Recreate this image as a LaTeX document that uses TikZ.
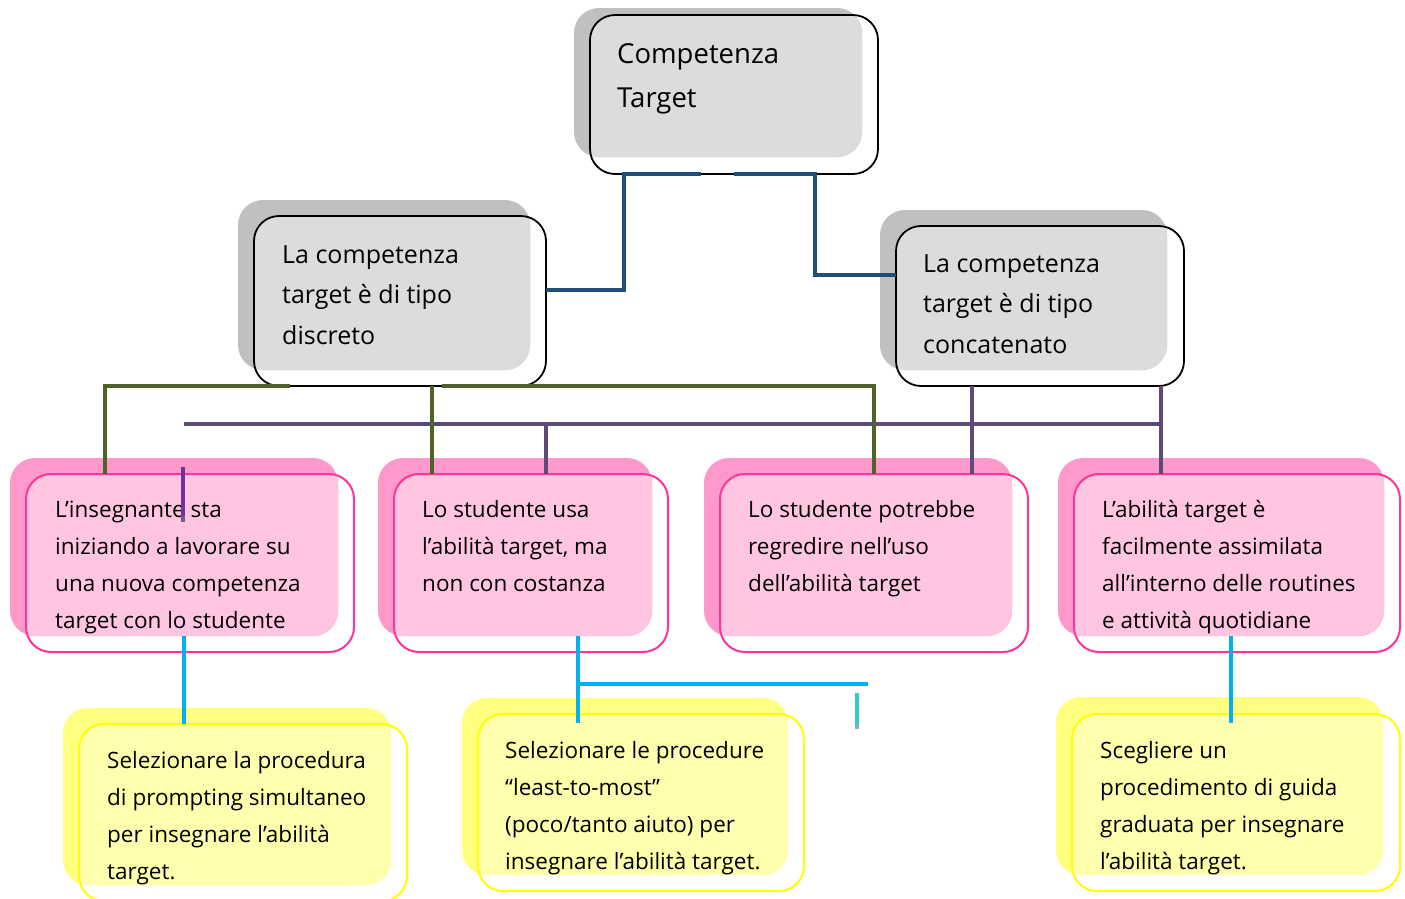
\documentclass[tikz,border=0pt]{standalone}
\usepackage{fontspec}
\setmainfont{Open Sans}
\usetikzlibrary{fit}
\definecolor{gD}{HTML}{C0C0C0}
\definecolor{gL}{HTML}{DCDCDC}
\definecolor{pD}{HTML}{FF99CC}
\definecolor{pL}{HTML}{FFC5E1}
\definecolor{pO}{HTML}{FF3399}
\definecolor{yD}{HTML}{FFFF80}
\definecolor{yL}{HTML}{FFFFAE}
\definecolor{yO}{HTML}{FFFF00}
\definecolor{cBlue}{HTML}{1F4E79}
\definecolor{cGreen}{HTML}{4F6228}
\definecolor{cPurple}{HTML}{5F497A}
\definecolor{cViolet}{HTML}{7030A0}
\definecolor{cCyan}{HTML}{00B0F0}
\definecolor{cTeal}{HTML}{33CCCC}
\tikzset{
  outg/.style={draw=black, line width=1.8pt},
  outp/.style={draw=pO, line width=2pt},
  outy/.style={draw=yO, line width=2pt},
  fbig/.style={font=\fontsize{27.5}{33}\selectfont},
  fmid/.style={font=\fontsize{25}{30}\selectfont},
  fsmall/.style={font=\fontsize{22.5}{27}\selectfont},
  link/.style={line width=4pt},
}
\newcommand\tbox[6]{%
  \fill[#1D, rounded corners=25pt] (#3) rectangle (#4);
  \begin{scope}
    \clip[rounded corners=25pt] (#3) rectangle (#4);
    \fill[#1L, rounded corners=25pt] (#5) rectangle (#6);
  \end{scope}
  \coordinate (#2-nw) at (#5);
  \coordinate (#2-se) at (#6);
  \node[fit=(#2-nw)(#2-se), inner sep=0pt, outer sep=0pt, out#1, rounded corners=25pt] (#2) {};
}
\newcommand\txtlines[6]{%
  \foreach \l [count=\i from 0] in {#6}{%
    \node[#5, anchor=base west, inner sep=0pt] (#1-\i) at (#2, #3+\i*#4) {\l};}%
}
\begin{document}
\begin{tikzpicture}[x=1pt, y=-1pt]
\useasboundingbox (0,0) rectangle (1405,898);
\fill[white] (0,0) rectangle (1405,898);

% boxes
\tbox{g}{top}{574,8}{862,157}{590,15}{878,174}
\tbox{g}{l1}{238,200}{530,370}{254,216}{546,386}
\tbox{g}{r1}{880,210}{1167,370}{896,226}{1184,386}
\tbox{p}{p1}{10,458}{338,636}{26,474}{354,652}
\tbox{p}{p2}{378,458}{652,636}{394,474}{668,652}
\tbox{p}{p3}{704,458}{1012,636}{720,474}{1028,652}
\tbox{p}{p4}{1058,458}{1384,636}{1074,474}{1400,652}
\tbox{y}{y1}{63,708}{391,885}{79,724}{407,901}
\tbox{y}{y2}{462,698}{788,875}{478,714}{804,891}
\tbox{y}{y3}{1056,697}{1383,875}{1072,714}{1400,891}

% texts
\txtlines{ttop}{617}{63}{44}{fbig}{{Competenza},{Target}}
\txtlines{tl1}{282}{263}{40.7}{fmid}{{La competenza},{target è di tipo},{discreto}}
\txtlines{tr1}{923}{272}{40.7}{fmid}{{La competenza},{target è di tipo},{concatenato}}
\txtlines{tp1}{55}{517}{37}{fsmall}{{L’insegnante sta},{iniziando a lavorare su},{una nuova competenza},{target con lo studente}}
\txtlines{tp2}{422}{517}{37}{fsmall}{{Lo studente usa},{l’abilità target, ma},{non con costanza}}
\txtlines{tp3}{748}{517}{37}{fsmall}{{Lo studente potrebbe},{regredire nell’uso},{dell’abilità target}}
\txtlines{tp4}{1102}{517}{37}{fsmall}{{L’abilità target è},{facilmente assimilata},{all’interno delle routines},{e attività quotidiane}}
\txtlines{ty1}{107}{768}{37}{fsmall}{{Selezionare la procedura},{di prompting simultaneo},{per insegnare l’abilità},{target.}}
\txtlines{ty2}{505}{758}{37}{fsmall}{{Selezionare le procedure},{“least-to-most”},{(poco/tanto aiuto) per},{insegnare l’abilità target.}}
\txtlines{ty3}{1100}{758}{37}{fsmall}{{Scegliere un},{procedimento di guida},{graduata per insegnare},{l’abilità target.}}

% blue connectors
\draw[link, cBlue] (top.south -| 701,0) -- (top.south -| 624,0) |- (l1.east |- 0,290);
\draw[link, cBlue] (top.south -| 734,0) -- (top.south -| 815,0) |- (r1.west |- 0,275);

% purple connectors
\coordinate (pbarL) at (184,424);
\coordinate (pbarR) at (1161,424);
\draw[link, cPurple] (pbarL) -- (pbarR);
\draw[link, cPurple] (r1.south -| pbarR) -- (p4.north -| pbarR);
\draw[link, cPurple] (r1.south -| 972,0) -- (p3.north -| 972,0);
\draw[link, cPurple] (pbarL -| 546,0) -- (p2.north -| 546,0);
\draw[link, cViolet] (183,467) -- (183,516);
\draw[link, color=cViolet!45!gray] (183,516) -- (183,522);

% green connectors
\draw[link, cGreen] (l1.south -| 290,0) -- (l1.south -| 105,0) -- (p1.north -| 105,0);
\draw[link, cGreen] (l1.south -| 442,0) -- (l1.south -| 874,0) -- (p3.north -| 874,0);
\draw[link, cGreen] (l1.south -| 432,0) -- (p2.north -| 432,0);

% cyan connectors
\draw[link, cCyan] (184,636) -- (y1.north -| 184,0);
\draw[link, cCyan] (578,636) -- (578,723);
\draw[link, cCyan] (578,684) -- (868,684);
\draw[link, cCyan] (1231,636) -- (1231,723);
\draw[link, cTeal] (857,693) -- (857,726);
\draw[link, color=gray!70] (857,726) -- (857,729);
\end{tikzpicture}
\end{document}
